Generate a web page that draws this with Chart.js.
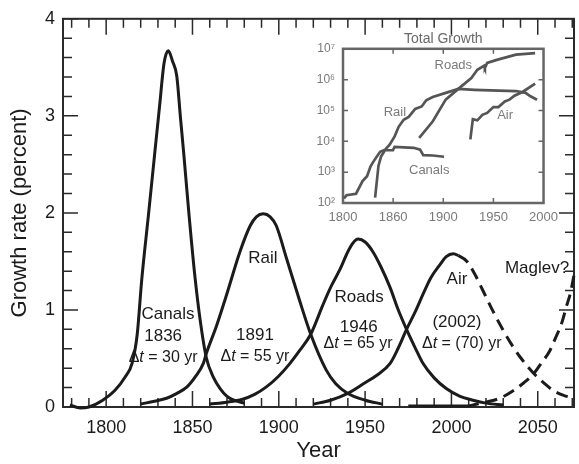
<!DOCTYPE html>
<html><head><meta charset="utf-8">
<script src="https://cdn.jsdelivr.net/npm/chart.js@4/dist/chart.umd.min.js"></script>
<style>
html,body{margin:0;padding:0;background:#fff;}
#wrap{position:relative;width:579px;height:464px;overflow:hidden;}
#main{position:absolute;left:0;top:0;}
#inset{position:absolute;left:300px;top:26px;}
</style></head><body>
<div id="wrap"><canvas id="main" width="579" height="464"></canvas><canvas id="inset" width="265" height="200"></canvas></div>
<script>
// ---------------- Main chart data (year, growth rate %) ----------------
const canalsYears  = [1779,1785,1790,1798,1805,1811,1815,1818,1820.6,1824.5,1828,1831,1833.5,1836,1838.5,1840.9,1843,1845,1848,1851.5,1854.5,1858,1862,1866,1870,1874,1880];
const canalsValues = [0.02,-0.01,0.0,0.07,0.17,0.31,0.45,0.75,1.31,1.98,2.59,3.11,3.54,3.67,3.56,3.41,2.99,2.6,1.98,1.33,0.89,0.51,0.31,0.19,0.11,0.07,0.04];

const railYears  = [1820,1828,1835,1841,1847,1852,1856.3,1858,1864,1870,1877.5,1883.5,1887,1891,1895,1898.5,1904.5,1912,1918.5,1927.5,1933,1940,1950,1960];
const railValues = [0.03,0.06,0.09,0.14,0.21,0.32,0.45,0.55,0.84,1.17,1.60,1.87,1.96,1.99,1.96,1.87,1.53,1.10,0.75,0.38,0.24,0.14,0.07,0.03];

const roadsYears  = [1860,1870,1879,1886,1893,1900,1906.5,1912,1918.5,1925.5,1930.5,1935.5,1940,1943,1946,1950,1954.5,1959,1964.5,1969,1974,1979,1983.5,1990,1997,2005,2012.5,2020,2030];
const roadsValues = [0.03,0.05,0.08,0.13,0.21,0.32,0.45,0.58,0.75,1.05,1.25,1.42,1.60,1.69,1.73,1.70,1.60,1.45,1.23,1.01,0.80,0.61,0.45,0.30,0.19,0.11,0.07,0.04,0.02];

const airYears  = [1920,1930,1940,1950,1957,1964.5,1969,1974,1979,1983.5,1988,1993.5,1997,2001,2004,2009,2013.5,2018.5,2024,2030,2035,2040,2048,2054,2059,2065,2071];
const airValues = [0.03,0.07,0.14,0.25,0.33,0.45,0.60,0.80,0.98,1.16,1.33,1.47,1.55,1.58,1.56,1.50,1.37,1.19,0.99,0.79,0.64,0.51,0.34,0.24,0.17,0.12,0.09];

const maglevYears  = [1975,1990,2009,2015,2020,2028,2036,2042,2047.5,2052,2057,2060.5,2064,2066.5,2069,2071];
const maglevValues = [0.01,0.01,0.01,0.03,0.05,0.09,0.17,0.25,0.34,0.45,0.58,0.72,0.87,1.03,1.18,1.36];

const mainXTicks = [1800,1850,1900,1950,2000,2050];
const mainYTicks = [0,1,2,3,4];

// ---------------- Inset data (year, total size, log scale) ----------------
const insetRailYears  = [1801,1803.5,1813,1819.5,1824,1827.5,1830.5,1837,1842,1846.5,1851.5,1855.5,1860.5,1865.5,1872,1878.5,1883,1889.5,1902.5,1915,1931,1947,1972.5,1982,1987,1993.5];
const insetRailValues = [140,178,200,513,741,1550,2240,4570,5370,7760,14500,29500,50100,61700,112000,135000,214000,275000,372000,501000,468000,447000,427000,372000,288000,224000];

const insetCanalsYears  = [1832,1835.4,1838,1841.8,1849.8,1851.4,1870.5,1876.9,1880,1889.6,1900.8];
const insetCanalsValues = [150,1620,3240,5130,5130,6610,6170,5370,3550,3470,3160];

const insetRoadsYears  = [1876,1889.6,1902.4,1915,1928,1934,1940.7,1941.5,1943.8,1953.4,1972.5,1991.6];
const insetRoadsValues = [12900,44700,224000,501000,1120000,2090000,2820000,2400000,3470000,4370000,6460000,7240000];

const insetAirYears  = [1927,1929.5,1934,1939,1943.8,1950,1955,1961.4,1966,1971,1979,1991.6];
const insetAirValues = [11500,52500,47900,72400,83200,129000,129000,195000,224000,302000,398000,741000];

const insetXTicks  = [1800,1850,1900,1950,2000];
const insetXLabels = ['1800','1860','1900','1950','2000'];
const insetYTicks  = [1e2,1e3,1e4,1e5,1e6,1e7];

// ---------------- Text annotations (data coordinates) ----------------
const mainLabels = [
  {text:'Canals', x:1835.8, y:0.96},
  {text:'1836', x:1833, y:0.73},
  {delta:'30 yr', x:1833, y:0.51},
  {text:'Rail', x:1890.8, y:1.53},
  {text:'1891', x:1886.2, y:0.74},
  {delta:'55 yr', x:1886.2, y:0.52},
  {text:'Roads', x:1946.5, y:1.13},
  {text:'1946', x:1946.3, y:0.82},
  {delta:'65 yr', x:1945.9, y:0.65},
  {text:'Air', x:2003.2, y:1.32},
  {text:'(2002)', x:2003.2, y:0.87},
  {delta:'(70) yr', x:2006, y:0.65},
  {text:'Maglev?', x:2049.6, y:1.43}
];
const insetLabels = [
  {text:'Roads', x:1910, y:3.0e6},
  {text:'Rail', x:1851.7, y:85000},
  {text:'Air', x:1961.7, y:67600},
  {text:'Canals', x:1886, y:1120}
];

// ---------------- Rendering ----------------
const FAM = "'Liberation Sans', Arial, Helvetica, sans-serif";
Chart.defaults.font.family = FAM;
const INK = '#1b1b1b';

function pts(xs, ys){ return xs.map((x,i)=>({x:x, y:ys[i]})); }
function dashAfter(year){ return { borderDash: c => (c.p0.parsed.x >= year ? [12,7] : undefined) }; }

function drawDelta(ctx, cx, cy, rest, size){
  const normal = size + 'px ' + FAM, ital = 'italic ' + size + 'px ' + FAM;
  const parts = [['\u0394', normal], ['t', ital], [' = ' + rest, normal]];
  let w = 0;
  parts.forEach(p => { ctx.font = p[1]; w += ctx.measureText(p[0]).width; });
  let x = cx - w/2;
  ctx.textAlign = 'left'; ctx.textBaseline = 'middle';
  parts.forEach(p => { ctx.font = p[1]; ctx.fillText(p[0], x, cy); x += ctx.measureText(p[0]).width; });
}

const mainFrame = {
  id:'mainFrame',
  beforeDatasetsDraw(chart){
    const {ctx, chartArea:a, scales:{x, y}} = chart;
    ctx.save();
    ctx.strokeStyle = '#2a2a2a';
    ctx.lineWidth = 1.5;
    ctx.beginPath();
    for (let v = 1780; v <= 2070; v += 10){
      const px = x.getPixelForValue(v);
      const len = (v % 50 === 0) ? 16 : 9;
      ctx.moveTo(px, a.bottom); ctx.lineTo(px, a.bottom - len);
      ctx.moveTo(px, a.top); ctx.lineTo(px, a.top + len);
    }
    for (let i = 0; i <= 20; i++){
      const py = y.getPixelForValue(i * 0.2);
      const len = (i % 5 === 0) ? 15 : 9;
      ctx.moveTo(a.left, py); ctx.lineTo(a.left + len, py);
      ctx.moveTo(a.right, py); ctx.lineTo(a.right - len, py);
    }
    ctx.stroke();
    ctx.lineWidth = 2;
    ctx.strokeRect(a.left, a.top, a.right - a.left, a.bottom - a.top);
    ctx.restore();
  },
  afterDatasetsDraw(chart){
    const {ctx, scales:{x, y}} = chart;
    ctx.save();
    ctx.fillStyle = INK;
    mainLabels.forEach(l => {
      const px = x.getPixelForValue(l.x), py = y.getPixelForValue(l.y);
      if (l.delta){ drawDelta(ctx, px, py, l.delta, 16); }
      else {
        ctx.font = '17px ' + FAM; ctx.textAlign = 'center'; ctx.textBaseline = 'middle';
        ctx.fillText(l.text, px, py);
      }
    });
    ctx.restore();
  }
};

function mainSet(xs, ys, dashYear){
  const d = {data: pts(xs, ys), borderColor: INK, borderWidth: 3, pointRadius: 0,
    cubicInterpolationMode: 'monotone', clip: false, fill: false};
  if (dashYear) d.segment = dashAfter(dashYear);
  return d;
}

new Chart(document.getElementById('main'), {
  type: 'line',
  data: { datasets: [
    mainSet(canalsYears, canalsValues),
    mainSet(railYears, railValues),
    mainSet(roadsYears, roadsValues),
    mainSet(airYears, airValues, 2004),
    mainSet(maglevYears, maglevValues, 2009)
  ]},
  options: {
    responsive: false, animation: false, devicePixelRatio: 1,
    layout: {padding: {top: 15, right: 5, left: 0, bottom: 0}},
    plugins: {legend: {display: false}, tooltip: {enabled: false}},
    scales: {
      x: {
        type: 'linear', min: 1775, max: 2071,
        afterBuildTicks: s => { s.ticks = mainXTicks.map(v => ({value: v})); },
        afterFit: s => { s.height = 57; },
        grid: {display: false, drawTicks: false}, border: {display: false},
        ticks: {callback: v => String(v), padding: 10, color: INK, font: {size: 18}, maxRotation: 0, autoSkip: false},
        title: {display: true, text: 'Year', color: INK, font: {size: 22}, padding: {top: 0, bottom: 0}}
      },
      y: {
        type: 'linear', min: 0, max: 4,
        afterBuildTicks: s => { s.ticks = mainYTicks.map(v => ({value: v})); },
        afterFit: s => { s.width = 63; },
        grid: {display: false, drawTicks: false}, border: {display: false},
        ticks: {callback: v => String(v), padding: 8, color: INK, font: {size: 18}, autoSkip: false},
        title: {display: true, text: 'Growth rate (percent)', color: INK, font: {size: 22}, padding: {top: 7, bottom: 0}}
      }
    }
  },
  plugins: [mainFrame]
});

// ---------------- Inset ----------------
const SUP = {2:'\u00B2', 3:'\u00B3', 4:'\u2074', 5:'\u2075', 6:'\u2076', 7:'\u2077'};
const GREY_LINE = '#555555', GREY_TEXT = '#7a7a7a', GREY_BOX = '#666666';

const insetFrame = {
  id:'insetFrame',
  beforeDatasetsDraw(chart){
    const {ctx, chartArea:a, scales:{x, y}} = chart;
    ctx.save();
    ctx.strokeStyle = GREY_BOX;
    ctx.lineWidth = 1.5;
    ctx.beginPath();
    [1850,1900,1950].forEach(v => {
      const px = x.getPixelForValue(v);
      ctx.moveTo(px, a.bottom); ctx.lineTo(px, a.bottom - 5);
      ctx.moveTo(px, a.top); ctx.lineTo(px, a.top + 5);
    });
    [1e3,1e4,1e5,1e6].forEach(v => {
      const py = y.getPixelForValue(v);
      ctx.moveTo(a.left, py); ctx.lineTo(a.left + 5, py);
      ctx.moveTo(a.right, py); ctx.lineTo(a.right - 5, py);
    });
    ctx.stroke();
    ctx.lineWidth = 2.5;
    ctx.strokeRect(a.left, a.top, a.right - a.left, a.bottom - a.top);
    ctx.restore();
  },
  afterDatasetsDraw(chart){
    const {ctx, scales:{x, y}} = chart;
    ctx.save();
    ctx.fillStyle = GREY_TEXT;
    ctx.font = '13px ' + FAM; ctx.textAlign = 'center'; ctx.textBaseline = 'middle';
    insetLabels.forEach(l => ctx.fillText(l.text, x.getPixelForValue(l.x), y.getPixelForValue(l.y)));
    ctx.restore();
  }
};

function insetSet(xs, ys){
  return {data: pts(xs, ys), borderColor: GREY_LINE, borderWidth: 2.7, pointRadius: 0, tension: 0, fill: false};
}

new Chart(document.getElementById('inset'), {
  type: 'line',
  data: { datasets: [
    insetSet(insetRailYears, insetRailValues),
    insetSet(insetCanalsYears, insetCanalsValues),
    insetSet(insetRoadsYears, insetRoadsValues),
    insetSet(insetAirYears, insetAirValues)
  ]},
  options: {
    responsive: false, animation: false, devicePixelRatio: 1,
    layout: {padding: {top: 0, right: 13, left: 0, bottom: 0}},
    plugins: {
      legend: {display: false}, tooltip: {enabled: false},
      title: {display: true, text: 'Total Growth', color: '#6a6a6a', font: {size: 14, weight: 'normal'}, padding: {top: 5, bottom: 1}, fullSize: false}
    },
    scales: {
      x: {
        type: 'linear', min: 1800, max: 2000,
        afterBuildTicks: s => { s.ticks = insetXTicks.map(v => ({value: v})); },
        afterFit: s => { s.height = 23; },
        grid: {display: false, drawTicks: false}, border: {display: false},
        ticks: {callback: (v, i) => insetXLabels[i], padding: 7, color: GREY_TEXT, font: {size: 13}, maxRotation: 0, autoSkip: false}
      },
      y: {
        type: 'logarithmic', min: 100, max: 1e7,
        afterBuildTicks: s => { s.ticks = insetYTicks.map(v => ({value: v})); },
        afterFit: s => { s.width = 43; },
        grid: {display: false, drawTicks: false}, border: {display: false},
        ticks: {callback: v => '10' + SUP[Math.round(Math.log10(v))], padding: 8, color: GREY_TEXT, font: {size: 12}, autoSkip: false}
      }
    }
  },
  plugins: [insetFrame]
});
</script>
</body></html>
